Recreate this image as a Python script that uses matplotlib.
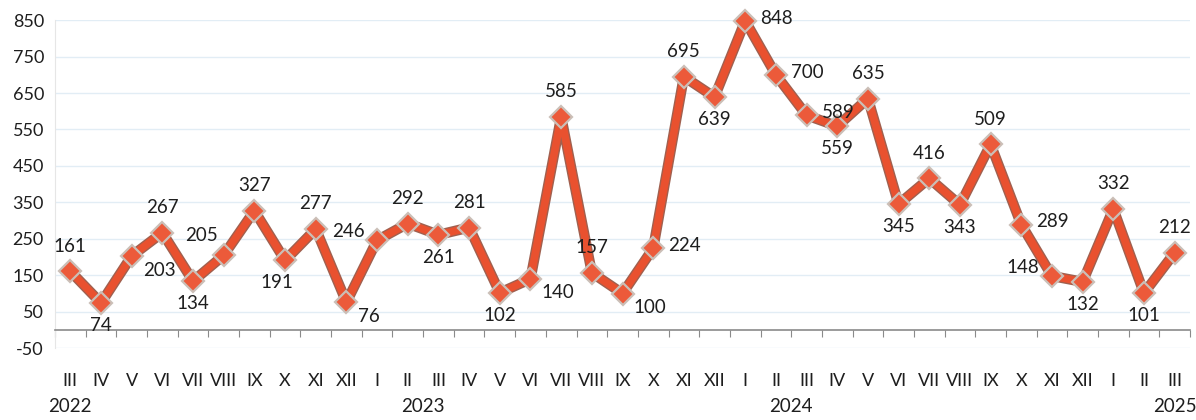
import matplotlib
matplotlib.use("Agg")
import matplotlib.pyplot as plt
import matplotlib.patheffects as pe
from matplotlib.transforms import blended_transform_factory

# months from III 2022 to III 2025
months = ["III", "IV", "V", "VI", "VII", "VIII", "IX", "X", "XI", "XII",
          "I", "II", "III", "IV", "V", "VI", "VII", "VIII", "IX", "X", "XI", "XII",
          "I", "II", "III", "IV", "V", "VI", "VII", "VIII", "IX", "X", "XI", "XII",
          "I", "II", "III"]
values = [161, 74, 203, 267, 134, 205, 327, 191, 277, 76,
          246, 292, 261, 281, 102, 140, 585, 157, 100, 224, 695, 639,
          848, 700, 589, 559, 635, 345, 416, 343, 509, 289, 148, 132,
          332, 101, 212]
years = ["2022", "2023", "2024", "2025"]
year_pos = [0, 11.5, 23.5, 36]

# where each value label sits relative to its point
label_side = ["a", "b", "br", "a", "b", "al", "a", "bl", "a", "br",
              "l", "a", "b", "a", "b", "br", "a", "a", "br", "r", "a", "b",
              "r", "r", "r", "b", "a", "b", "a", "b", "a", "r", "l", "b",
              "a", "b", "a"]

offsets = {
    "a": ((0, 12), "center", "bottom"),
    "b": ((0, -10), "center", "top"),
    "br": ((8, -4), "left", "top"),
    "bl": ((-6, -10), "center", "top"),
    "al": ((-4, 8), "right", "bottom"),
    "l": ((-9, 6), "right", "center"),
    "r": ((11, 2), "left", "center"),
}

plt.rcParams['font.family'] = ['Lato', 'DejaVu Sans']
plt.rcParams['axes.unicode_minus'] = False

fig = plt.figure(figsize=(11.96, 4.2), dpi=100)
ax = fig.add_axes([0.046, 0.171, 0.949, 0.781])

x = list(range(len(values)))

ax.plot(x, values, color="#e9512f", lw=5.5, solid_joinstyle="round", zorder=3,
        clip_on=False,
        path_effects=[pe.Stroke(linewidth=7.5, foreground="#a0604f"), pe.Normal()])
ax.plot(x, values, linestyle="none", marker="D", markersize=11, clip_on=False,
        markerfacecolor="#ec5a3a", markeredgecolor="#cbbfb7", markeredgewidth=1.6,
        zorder=4)

for xi, v, side in zip(x, values, label_side):
    off, ha, va = offsets[side]
    ax.annotate(str(v), (xi, v), xytext=off, textcoords="offset points",
                ha=ha, va=va, fontsize=13.5, color="#1e1e1e", zorder=5)

ax.set_ylim(-50, 850)
ax.set_xlim(-0.42, 36.5)
ax.set_yticks(range(-50, 851, 100))
ax.tick_params(axis="y", length=0, labelsize=13, pad=8, labelcolor="#1e1e1e")
ax.grid(axis="y", color="#e2edf5", lw=1.0)
ax.set_axisbelow(True)

for s in ["top", "right"]:
    ax.spines[s].set_visible(False)
ax.spines["left"].set_color("#e6e6e6")
ax.spines["bottom"].set_position(("data", 0))
ax.spines["bottom"].set_color("#8a8a8a")
ax.spines["bottom"].set_linewidth(1.2)
ax.set_xticks([i + 0.5 for i in range(-1, len(values))])
ax.set_xticklabels([])
ax.tick_params(axis="x", length=5, color="#8a8a8a", direction="out")

sec = ax.secondary_xaxis(0)
sec.set_xticks(x, months)
sec.tick_params(axis="x", length=0, pad=18, labelsize=13, labelcolor="#1e1e1e")
sec.spines["bottom"].set_visible(False)

trans = blended_transform_factory(ax.transData, fig.transFigure)
for yr, p in zip(years, year_pos):
    ax.text(p, 0.012, yr, transform=trans, ha="center", va="bottom",
            fontsize=13.5, color="#1e1e1e")

fig.savefig("out.png", dpi=100)
